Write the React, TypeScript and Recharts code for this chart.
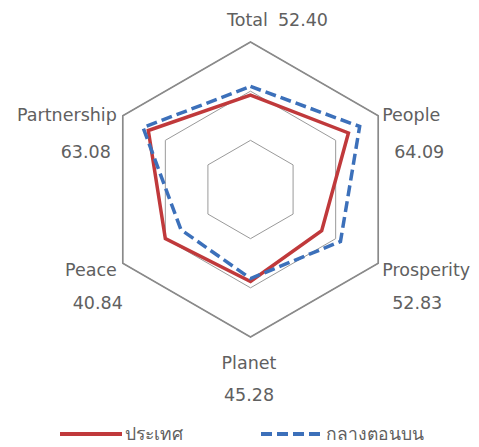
import { RadarChart, Radar, PolarGrid, PolarAngleAxis, PolarRadiusAxis, Legend } from "recharts";

// SDG dimensions, clockwise from the top
const dimensions = ["Total", "People", "Prosperity", "Planet", "Peace", "Partnership"];
const scoreLabels = ["52.40", "64.09", "52.83", "45.28", "40.84", "63.08"];
const regionScores = [52.4, 64.09, 52.83, 45.28, 40.84, 63.08];
const countryScores = [48.0, 57.5, 41.8, 46.8, 50.0, 60.0];
const radiusTicks = [0, 25, 50, 75];
const countryName = "ประเทศ";
const regionName = "กลางตอนบน";
const legendOrder = [countryName, regionName];

const data = dimensions.map((d, i) => ({
  name: d,
  score: scoreLabels[i],
  country: countryScores[i],
  region: regionScores[i],
}));

const FONT = "'DejaVu Sans', 'Noto Sans', sans-serif";
const FS = 17.5;
const TEXT = "#606060";
const RED = "#c0393b";
const BLUE = "#3c70ba";
const OUTER_R = 147.5;

// label placement relative to the tick point
const labelPos = [
  { anchor: "start", dx: -23.5, dy: -14, vdx: 0, vdy: 0, inline: true },
  { anchor: "start", dx: -3, dy: 3, vdx: 12, vdy: 40 },
  { anchor: "start", dx: -3, dy: 3, vdx: 10, vdy: 36 },
  { anchor: "middle", dx: -1.5, dy: 18, vdx: 0, vdy: 50 },
  { anchor: "end", dx: 1, dy: 3, vdx: 6, vdy: 36 },
  { anchor: "end", dx: 1, dy: 3, vdx: -6, vdy: 40 },
];

function AxisLabel(props: any) {
  const { x, y, payload, index } = props;
  const i = index ?? dimensions.indexOf(payload.value);
  const p = labelPos[i];
  if (p.inline) {
    return (
      <text x={x + p.dx} y={y + p.dy} dy="0.35em" textAnchor="start" fill={TEXT} fontSize={FS} fontFamily={FONT}>
        {payload.value}
        <tspan dx={10}>{scoreLabels[i]}</tspan>
      </text>
    );
  }
  return (
    <g>
      <text x={x + p.dx} y={y + p.dy} dy="0.35em" textAnchor={p.anchor} fill={TEXT} fontSize={FS} fontFamily={FONT}>
        {payload.value}
      </text>
      <text x={x + p.dx + p.vdx} y={y + p.vdy} dy="0.35em" textAnchor={p.anchor} fill={TEXT} fontSize={FS} fontFamily={FONT}>
        {scoreLabels[i]}
      </text>
    </g>
  );
}

function LegendBox(props: any) {
  const items = [...(props.payload || [])].sort(
    (a: any, b: any) => legendOrder.indexOf(a.value) - legendOrder.indexOf(b.value)
  );
  return (
    <div style={{ display: "flex", alignItems: "center", fontFamily: FONT, fontSize: FS, color: TEXT }}>
      {items.map((it: any, k: number) => (
        <div key={it.value} style={{ display: "flex", alignItems: "center", marginLeft: k === 0 ? 52 : 78 }}>
          <svg width={62} height={10}>
            <line
              x1={0}
              y1={5}
              x2={62}
              y2={5}
              stroke={it.color}
              strokeWidth={4}
              strokeDasharray={it.payload?.strokeDasharray}
            />
          </svg>
          <span style={{ marginLeft: 3 }}>{it.value}</span>
        </div>
      ))}
    </div>
  );
}

export default function App() {
  return (
    <RadarChart
      width={471}
      height={439}
      data={data}
      cx={242.5}
      cy={181.5}
      outerRadius={OUTER_R}
      innerRadius={0}
      startAngle={90}
      endAngle={-270}
    >
      <PolarGrid gridType="polygon" radialLines={false} stroke="#9a9a9a" strokeWidth={1} />
      <PolarGrid gridType="polygon" radialLines={false} polarRadius={[OUTER_R]} stroke="#8a8a8a" strokeWidth={1.6} />
      <PolarAngleAxis dataKey="name" tick={AxisLabel} tickLine={false} axisLine={false} />
      <PolarRadiusAxis domain={[0, 75]} ticks={radiusTicks} tick={false} axisLine={false} />
      <Radar
        name={countryName}
        dataKey="country"
        stroke={RED}
        strokeWidth={3.5}
        fill="none"
        fillOpacity={0}
        dot={false}
        isAnimationActive={false}
      />
      <Radar
        name={regionName}
        dataKey="region"
        stroke={BLUE}
        strokeWidth={3.5}
        strokeDasharray="11 5"
        fill="none"
        fillOpacity={0}
        dot={false}
        isAnimationActive={false}
      />
      <Legend content={LegendBox} wrapperStyle={{ top: 412, left: 0, width: 471 }} />
    </RadarChart>
  );
}
